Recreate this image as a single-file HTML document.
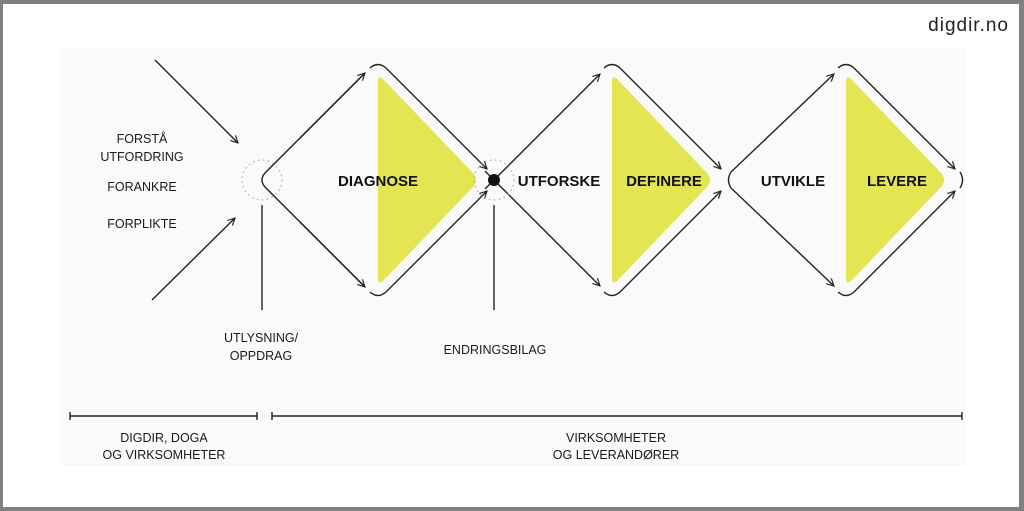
<!DOCTYPE html>
<html><head><meta charset="utf-8"><style>
html,body{margin:0;padding:0;}
body{width:1024px;height:511px;background:#808080;position:relative;overflow:hidden;}
.frame{position:absolute;left:3px;top:4px;width:1016px;height:503px;background:#fff;}
svg{position:absolute;left:0;top:0;}
text{font-family:"Liberation Sans",sans-serif;}
</style></head><body>
<div class="frame"></div>
<svg width="1024" height="511" viewBox="0 0 1024 511">
<defs>
<marker id="ah" viewBox="0 0 10 10" refX="9" refY="5" markerWidth="9" markerHeight="9" orient="auto" markerUnits="userSpaceOnUse">
<path d="M1,1 L9,5 L1,9" fill="none" stroke="#222" stroke-width="1.3"/>
</marker>
</defs>
<rect x="60" y="48" width="905" height="418" fill="#fafafa"/>
<text x="1009" y="31" font-size="19" text-anchor="end" fill="#222" letter-spacing="1">digdir.no</text>

<!-- yellow triangles -->
<path d="M378,82 Q378,74 384,80 L473,173 Q479,180 473,187 L384,280 Q378,286 378,278 Z" fill="#e3e553"/>
<path d="M612,82 Q612,74 618,80 L707,173 Q713,180 707,187 L618,280 Q612,286 612,278 Z" fill="#e3e553"/>
<path d="M846,82 Q846,74 852,80 L941,173 Q947,180 941,187 L852,280 Q846,286 846,278 Z" fill="#e3e553"/>

<g fill="none" stroke="#222" stroke-width="1.4">
<line x1="155" y1="60" x2="238" y2="143" marker-end="url(#ah)"/>
<line x1="152" y1="300" x2="235" y2="218" marker-end="url(#ah)"/>
<path d="M365,73 L265,173 Q259,180 265,187 L365,287" />
<line x1="300" y1="138" x2="365" y2="73" marker-end="url(#ah)"/>
<line x1="300" y1="222" x2="365" y2="287" marker-end="url(#ah)"/>
<path d="M370,68 Q378,61 386,68 L487,169" marker-end="url(#ah)"/>
<path d="M370,292 Q378,299 386,292 L487,191" marker-end="url(#ah)"/>
<line x1="485" y1="189" x2="600" y2="74" marker-end="url(#ah)"/>
<line x1="485" y1="171" x2="600" y2="286" marker-end="url(#ah)"/>
<path d="M604,68 Q612,61 620,68 L721,169" marker-end="url(#ah)"/>
<path d="M604,292 Q612,299 620,292 L721,191" marker-end="url(#ah)"/>
<path d="M731,172 Q726,180 731,188" />
<path d="M731,172 L834,74" marker-end="url(#ah)"/>
<path d="M731,188 L834,286" marker-end="url(#ah)"/>
<path d="M838,68 Q846,61 854,68 L955,169" marker-end="url(#ah)"/>
<path d="M838,292 Q846,299 854,292 L955,191" marker-end="url(#ah)"/>
<path d="M960,172 Q965,180 960,188"/>
<line x1="262" y1="205" x2="262" y2="310"/>
<line x1="494" y1="205" x2="494" y2="310"/>
<line x1="70" y1="416" x2="257" y2="416"/>
<line x1="70" y1="412" x2="70" y2="420"/>
<line x1="257" y1="412" x2="257" y2="420"/>
<line x1="272" y1="416" x2="962" y2="416"/>
<line x1="272" y1="412" x2="272" y2="420"/>
<line x1="962" y1="412" x2="962" y2="420"/>
</g>
<g fill="none" stroke="#aaa" stroke-width="1.2" stroke-dasharray="1.5,3.5">
<circle cx="262" cy="180" r="20"/>
<circle cx="494" cy="180" r="20"/>
</g>
<circle cx="494" cy="180" r="6" fill="#111"/>

<g font-size="12.5" fill="#1a1a1a" text-anchor="middle">
<text x="142" y="143">FORSTÅ</text>
<text x="142" y="161">UTFORDRING</text>
<text x="142" y="191">FORANKRE</text>
<text x="142" y="228">FORPLIKTE</text>
<text x="261" y="342">UTLYSNING/</text>
<text x="261" y="360">OPPDRAG</text>
<text x="495" y="354">ENDRINGSBILAG</text>
<text x="164" y="442">DIGDIR, DOGA</text>
<text x="164" y="459">OG VIRKSOMHETER</text>
<text x="616" y="442">VIRKSOMHETER</text>
<text x="616" y="459">OG LEVERANDØRER</text>
</g>
<g font-size="15" font-weight="bold" fill="#111" text-anchor="middle">
<text x="378" y="186">DIAGNOSE</text>
<text x="559" y="186">UTFORSKE</text>
<text x="664" y="186">DEFINERE</text>
<text x="793" y="186">UTVIKLE</text>
<text x="897" y="186">LEVERE</text>
</g>
</svg>
</body></html>
